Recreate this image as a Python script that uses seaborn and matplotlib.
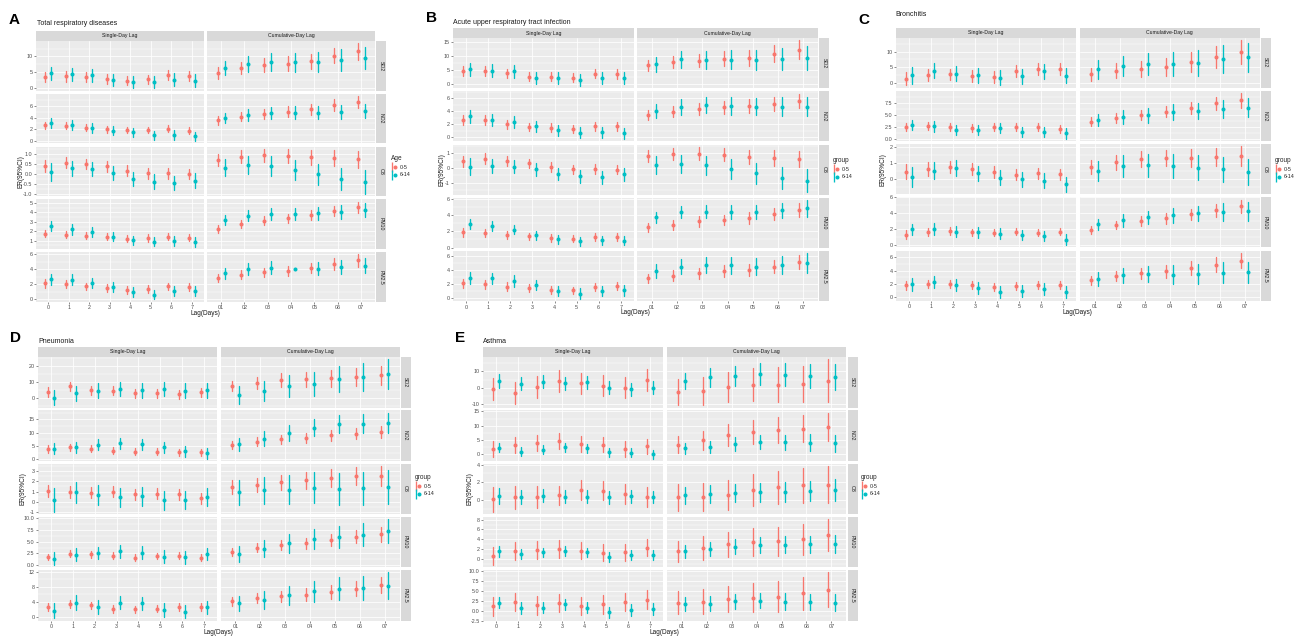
import numpy as np
import pandas as pd
import matplotlib
matplotlib.use("Agg")
import matplotlib.pyplot as plt
import seaborn as sns
from matplotlib.lines import Line2D
from matplotlib.patches import Rectangle
from matplotlib.legend_handler import HandlerTuple
from matplotlib.ticker import AutoMinorLocator

sns.set_theme(style="darkgrid")
plt.rcParams["font.family"] = ["Liberation Sans", "DejaVu Sans"]

W, H = 1298, 636

# ---------------- categories ----------------
pollutants = ["SO2", "NO2", "O3", "PM10", "PM2.5"]
single_lags = ["0", "1", "2", "3", "4", "5", "6", "7"]
cum_lags = ["01", "02", "03", "04", "05", "06", "07"]
lag_types = ["Single-Day Lag", "Cumulative-Day Lag"]
groups = ["0-5", "6-14"]
group_colors = ["#F8766D", "#00BFC4"]

panel_letters = ["A", "B", "C", "D", "E"]
panel_titles = ["Total respiratory diseases", "Acute upper respiratory tract infection",
                "Bronchitis", "Pneumonia", "Asthma"]
legend_titles = ["Age", "group", "group", "group", "group"]

# ---------------- data: ER estimate and CI half-width ----------------
# each list: 8 single-day lags (0..7) followed by 7 cumulative lags (01..07)
# ---- A: Total respiratory diseases
A_young_est = {
    "SO2": [3.5, 3.7, 3.5, 2.8, 2.3, 2.7, 4.1, 3.8, 4.8, 6.3, 7.2, 7.7, 8.5, 10.3, 11.6],
    "NO2": [2.7, 2.6, 2.3, 2.0, 1.9, 1.9, 2.1, 1.8, 3.5, 4.1, 4.6, 5.0, 5.4, 6.1, 6.6],
    "O3": [0.38, 0.57, 0.5, 0.38, 0.16, 0.03, 0.03, 0.0, 0.69, 0.86, 0.93, 0.88, 0.83, 0.79, 0.74],
    "PM10": [1.76, 1.65, 1.55, 1.44, 1.22, 1.29, 1.44, 1.33, 2.27, 2.75, 3.11, 3.36, 3.69, 4.16, 4.56],
    "PM2.5": [2.1, 2.0, 1.7, 1.5, 1.2, 1.4, 1.7, 1.67, 2.84, 3.24, 3.56, 3.74, 4.14, 4.68, 5.14],
}
A_young_ci = {
    "SO2": [1.6, 1.7, 1.6, 1.5, 1.5, 1.5, 1.7, 1.7, 1.9, 2.0, 2.2, 2.3, 2.4, 2.5, 2.6],
    "NO2": [0.6, 0.6, 0.6, 0.55, 0.55, 0.55, 0.6, 0.6, 0.7, 0.75, 0.8, 0.85, 0.9, 0.95, 1.0],
    "O3": [0.3, 0.28, 0.27, 0.27, 0.27, 0.27, 0.27, 0.27, 0.3, 0.32, 0.33, 0.35, 0.37, 0.4, 0.42],
    "PM10": [0.42, 0.4, 0.4, 0.38, 0.38, 0.38, 0.4, 0.4, 0.42, 0.45, 0.47, 0.5, 0.52, 0.55, 0.58],
    "PM2.5": [0.55, 0.55, 0.52, 0.5, 0.5, 0.5, 0.52, 0.52, 0.55, 0.6, 0.62, 0.65, 0.7, 0.75, 0.8],
}
A_old_est = {
    "SO2": [4.6, 4.3, 4.0, 2.5, 1.9, 1.8, 2.6, 2.3, 6.3, 7.7, 8.2, 8.1, 8.3, 8.9, 9.5],
    "NO2": [3.1, 2.7, 2.2, 1.8, 1.5, 1.05, 1.05, 0.85, 3.9, 4.4, 4.7, 4.8, 4.8, 4.9, 5.1],
    "O3": [0.12, 0.28, 0.24, 0.05, -0.24, -0.38, -0.45, -0.33, 0.31, 0.43, 0.40, 0.21, -0.02, -0.24, -0.40],
    "PM10": [2.53, 2.2, 1.9, 1.44, 1.04, 0.89, 0.96, 0.89, 3.18, 3.65, 3.84, 3.84, 3.91, 4.05, 4.27],
    "PM2.5": [2.65, 2.6, 2.16, 1.58, 0.95, 0.63, 1.08, 1.08, 3.47, 4.0, 4.19, 4.05, 4.05, 4.23, 4.46],
}
A_old_ci = {
    "SO2": [2.1, 2.0, 2.0, 1.9, 1.9, 1.9, 2.0, 2.0, 2.3, 2.6, 2.8, 3.0, 3.2, 3.4, 3.6],
    "NO2": [0.8, 0.8, 0.8, 0.75, 0.75, 0.75, 0.8, 0.8, 0.9, 0.95, 1.0, 1.05, 1.1, 1.15, 1.2],
    "O3": [0.45, 0.38, 0.36, 0.36, 0.36, 0.36, 0.36, 0.36, 0.42, 0.45, 0.48, 0.5, 0.52, 0.56, 0.6],
    "PM10": [0.55, 0.55, 0.52, 0.5, 0.5, 0.5, 0.52, 0.52, 0.55, 0.6, 0.62, 0.65, 0.68, 0.72, 0.75],
    "PM2.5": [0.7, 0.7, 0.68, 0.65, 0.65, 0.65, 0.68, 0.68, 0.72, 0.78, 0.82, 0.12, 0.88, 0.92, 0.98],
}
# ---- B: Acute upper respiratory tract infection
B_young_est = {
    "SO2": [4.6, 4.6, 3.9, 2.6, 2.6, 2.3, 3.8, 3.6, 6.7, 8.0, 8.5, 9.1, 9.5, 11.0, 12.4],
    "NO2": [2.7, 2.6, 2.0, 1.6, 1.5, 1.3, 1.7, 1.7, 3.4, 3.9, 4.3, 4.6, 4.8, 5.1, 5.6],
    "O3": [0.43, 0.63, 0.47, 0.31, 0.07, -0.11, -0.09, -0.13, 0.79, 0.92, 0.97, 0.9, 0.74, 0.67, 0.6],
    "PM10": [1.9, 1.8, 1.5, 1.4, 1.2, 1.1, 1.3, 1.3, 2.5, 2.8, 3.2, 3.4, 3.6, 4.1, 4.6],
    "PM2.5": [2.1, 1.95, 1.65, 1.5, 1.2, 1.1, 1.6, 1.7, 2.8, 3.2, 3.55, 3.8, 4.0, 4.5, 5.1],
}
B_young_ci = {
    "SO2": [1.8, 1.8, 1.7, 1.6, 1.6, 1.6, 1.7, 1.7, 2.1, 2.3, 2.5, 2.7, 2.9, 3.2, 3.4],
    "NO2": [0.75, 0.75, 0.7, 0.65, 0.65, 0.65, 0.7, 0.7, 0.8, 0.85, 0.9, 0.95, 1.0, 1.05, 1.1],
    "O3": [0.38, 0.35, 0.33, 0.32, 0.32, 0.32, 0.32, 0.32, 0.4, 0.42, 0.45, 0.47, 0.5, 0.52, 0.55],
    "PM10": [0.55, 0.5, 0.5, 0.45, 0.45, 0.45, 0.45, 0.45, 0.55, 0.6, 0.62, 0.65, 0.7, 0.75, 0.8],
    "PM2.5": [0.65, 0.62, 0.6, 0.58, 0.55, 0.55, 0.58, 0.6, 0.7, 0.75, 0.8, 0.85, 0.9, 0.95, 1.0],
}
B_old_est = {
    "SO2": [5.3, 4.8, 4.6, 2.3, 2.1, 1.6, 2.2, 2.2, 7.1, 9.0, 8.7, 8.85, 8.6, 9.1, 9.5],
    "NO2": [3.2, 2.7, 2.4, 1.7, 1.1, 0.7, 0.75, 0.6, 4.0, 4.7, 5.0, 4.8, 4.7, 4.7, 4.7],
    "O3": [0.09, 0.13, 0.09, -0.11, -0.4, -0.58, -0.65, -0.45, 0.2, 0.27, 0.18, -0.11, -0.38, -0.7, -0.88],
    "PM10": [2.9, 2.6, 2.2, 1.5, 1.0, 0.8, 0.9, 0.85, 3.7, 4.35, 4.4, 4.35, 4.35, 4.55, 4.8],
    "PM2.5": [2.9, 2.8, 2.45, 1.85, 1.0, 0.65, 1.0, 1.1, 3.9, 4.5, 4.7, 4.65, 4.5, 4.7, 4.95],
}
B_old_ci = {
    "SO2": [2.4, 2.3, 2.3, 2.2, 2.2, 2.2, 2.2, 2.2, 2.8, 3.1, 3.3, 3.5, 3.7, 4.0, 4.3],
    "NO2": [1.0, 0.95, 0.9, 0.85, 0.85, 0.85, 0.85, 0.85, 1.1, 1.2, 1.25, 1.3, 1.35, 1.4, 1.45],
    "O3": [0.55, 0.45, 0.45, 0.42, 0.42, 0.42, 0.42, 0.42, 0.6, 0.62, 0.65, 0.68, 0.7, 0.74, 0.78],
    "PM10": [0.6, 0.6, 0.58, 0.55, 0.55, 0.55, 0.55, 0.55, 0.7, 0.75, 0.8, 0.85, 0.9, 0.95, 1.0],
    "PM2.5": [0.85, 0.8, 0.8, 0.75, 0.75, 0.75, 0.75, 0.75, 1.0, 1.05, 1.1, 1.15, 1.2, 1.3, 1.4],
}
# ---- C: Bronchitis
C_young_est = {
    "SO2": [1.35, 2.5, 2.7, 2.2, 2.0, 3.75, 4.5, 4.4, 2.7, 3.95, 4.5, 5.0, 6.6, 8.3, 10.0],
    "NO2": [2.5, 2.65, 2.45, 2.3, 2.5, 2.45, 2.45, 2.1, 3.55, 4.35, 4.95, 5.65, 6.45, 7.35, 8.0],
    "O3": [0.45, 0.6, 0.73, 0.61, 0.43, 0.25, 0.33, 0.29, 0.73, 1.04, 1.24, 1.29, 1.29, 1.35, 1.43],
    "PM10": [1.27, 1.56, 1.77, 1.56, 1.52, 1.65, 1.52, 1.65, 1.9, 2.5, 3.0, 3.33, 3.84, 4.35, 4.85],
    "PM2.5": [1.8, 2.0, 2.0, 1.8, 1.5, 1.65, 1.85, 1.9, 2.57, 3.24, 3.62, 3.9, 4.38, 4.9, 5.5],
}
C_young_ci = {
    "SO2": [2.0, 2.0, 1.9, 1.9, 1.9, 1.9, 1.9, 1.9, 2.2, 2.4, 2.6, 2.9, 3.2, 3.5, 3.8],
    "NO2": [0.85, 0.85, 0.8, 0.8, 0.8, 0.8, 0.8, 0.8, 0.9, 1.0, 1.1, 1.2, 1.3, 1.4, 1.5],
    "O3": [0.45, 0.42, 0.4, 0.38, 0.36, 0.35, 0.35, 0.35, 0.45, 0.48, 0.5, 0.52, 0.55, 0.58, 0.6],
    "PM10": [0.55, 0.5, 0.48, 0.45, 0.45, 0.45, 0.45, 0.45, 0.5, 0.55, 0.6, 0.65, 0.7, 0.78, 0.85],
    "PM2.5": [0.65, 0.65, 0.62, 0.6, 0.6, 0.6, 0.6, 0.6, 0.7, 0.78, 0.85, 0.92, 1.0, 1.08, 1.15],
}
C_old_est = {
    "SO2": [2.4, 3.95, 2.9, 2.4, 1.65, 2.1, 3.65, 2.3, 4.3, 5.4, 6.0, 6.1, 6.45, 7.7, 8.2],
    "NO2": [2.9, 2.65, 1.9, 1.9, 2.2, 1.43, 1.5, 1.15, 3.9, 4.5, 4.95, 5.5, 5.8, 6.2, 6.45],
    "O3": [0.1, 0.51, 0.65, 0.35, 0.06, -0.04, -0.14, -0.35, 0.49, 0.8, 0.86, 0.8, 0.69, 0.59, 0.41],
    "PM10": [1.94, 1.98, 1.65, 1.56, 1.4, 1.22, 1.1, 0.63, 2.57, 3.08, 3.46, 3.71, 3.97, 4.14, 4.22],
    "PM2.5": [1.95, 2.3, 1.85, 1.48, 0.85, 0.95, 1.2, 0.76, 2.8, 3.29, 3.52, 3.43, 3.52, 3.7, 3.76],
}
C_old_ci = {
    "SO2": [2.6, 2.5, 2.4, 2.4, 2.4, 2.4, 2.4, 2.4, 3.0, 3.3, 3.6, 3.9, 4.2, 4.5, 4.7],
    "NO2": [1.1, 1.1, 1.05, 1.05, 1.05, 1.05, 1.05, 1.05, 1.3, 1.45, 1.55, 1.65, 1.75, 1.85, 2.0],
    "O3": [0.62, 0.55, 0.5, 0.48, 0.48, 0.47, 0.47, 0.47, 0.65, 0.68, 0.72, 0.75, 0.78, 0.8, 0.82],
    "PM10": [0.72, 0.72, 0.7, 0.68, 0.68, 0.68, 0.68, 0.68, 0.75, 0.8, 0.85, 0.9, 1.0, 1.1, 1.2],
    "PM2.5": [0.95, 0.95, 0.9, 0.9, 0.9, 0.9, 0.9, 0.9, 1.05, 1.15, 1.25, 1.35, 1.45, 1.55, 1.6],
}
# ---- D: Pneumonia
D_young_est = {
    "SO2": [3.5, 7.0, 4.6, 4.3, 2.6, 2.6, 2.2, 3.3, 7.4, 9.1, 11.1, 11.5, 12.2, 13.0, 13.9],
    "NO2": [3.9, 4.4, 3.9, 3.1, 2.75, 2.75, 2.6, 2.6, 5.5, 6.6, 7.5, 8.1, 8.9, 9.6, 10.1],
    "O3": [1.08, 1.0, 0.9, 1.0, 0.73, 0.8, 0.73, 0.35, 1.43, 1.65, 1.9, 2.1, 2.3, 2.5, 2.54],
    "PM10": [1.76, 2.46, 2.32, 2.04, 1.62, 1.9, 2.04, 1.62, 2.8, 3.7, 4.3, 4.65, 5.3, 6.05, 6.55],
    "PM2.5": [2.6, 3.4, 3.0, 2.0, 1.9, 2.1, 2.5, 2.6, 4.1, 4.9, 5.4, 5.9, 6.55, 7.5, 8.5],
}
D_young_ci = {
    "SO2": [3.0, 3.0, 2.9, 2.8, 2.8, 2.8, 2.8, 2.8, 3.3, 3.8, 4.3, 4.8, 5.3, 5.7, 6.1],
    "NO2": [1.4, 1.35, 1.3, 1.3, 1.3, 1.3, 1.3, 1.3, 1.5, 1.6, 1.75, 1.9, 2.0, 2.1, 2.25],
    "O3": [0.6, 0.57, 0.55, 0.55, 0.55, 0.55, 0.55, 0.55, 0.65, 0.7, 0.75, 0.8, 0.85, 0.9, 0.95],
    "PM10": [0.7, 0.7, 0.7, 0.68, 0.68, 0.68, 0.68, 0.68, 0.85, 0.95, 1.05, 1.15, 1.3, 1.42, 1.55],
    "PM2.5": [1.05, 1.05, 1.0, 1.0, 1.0, 1.0, 1.0, 1.05, 1.2, 1.35, 1.5, 1.65, 1.8, 1.95, 2.1],
}
D_old_est = {
    "SO2": [0.0, 2.8, 4.3, 5.4, 4.6, 5.4, 4.3, 4.6, 1.7, 4.1, 7.2, 8.7, 11.5, 13.0, 14.6],
    "NO2": [4.0, 4.4, 5.4, 5.9, 5.6, 4.4, 2.9, 2.25, 5.6, 7.75, 10.0, 11.75, 13.1, 13.4, 13.75],
    "O3": [0.2, 0.92, 0.67, 0.44, 0.57, 0.16, 0.2, 0.48, 0.92, 1.14, 1.2, 1.37, 1.3, 1.33, 1.46],
    "PM10": [1.4, 2.25, 2.6, 2.96, 2.68, 1.83, 1.69, 2.4, 2.4, 3.5, 4.65, 5.5, 6.05, 6.5, 7.25],
    "PM2.5": [1.6, 3.75, 2.5, 3.75, 3.5, 1.8, 1.3, 2.45, 3.5, 4.35, 5.7, 6.8, 7.4, 7.6, 8.3],
}
D_old_ci = {
    "SO2": [4.8, 4.8, 4.7, 4.6, 4.6, 4.6, 4.6, 4.6, 5.5, 6.2, 6.8, 7.5, 8.3, 9.0, 9.5],
    "NO2": [2.2, 2.1, 2.1, 2.0, 2.0, 2.0, 2.0, 2.0, 2.4, 2.7, 3.0, 3.2, 3.4, 3.6, 3.75],
    "O3": [1.15, 1.0, 0.95, 0.92, 0.92, 0.9, 0.9, 0.9, 1.2, 1.3, 1.4, 1.5, 1.55, 1.6, 1.65],
    "PM10": [1.4, 1.4, 1.35, 1.35, 1.35, 1.35, 1.35, 1.35, 1.7, 1.85, 2.0, 2.15, 2.3, 2.45, 2.55],
    "PM2.5": [1.9, 1.9, 1.85, 1.85, 1.85, 1.85, 1.8, 1.8, 2.1, 2.4, 2.6, 2.85, 3.1, 3.3, 3.5],
}
# ---- E: Asthma
E_young_est = {
    "SO2": [-0.8, -3.0, 0.6, 4.1, 2.7, 1.4, 0.2, 4.9, -2.7, -1.8, 0.6, 2.0, 2.0, 2.2, 4.3],
    "NO2": [2.0, 3.2, 4.0, 4.6, 3.6, 3.4, 1.9, 2.8, 3.4, 4.9, 6.7, 7.7, 8.5, 8.9, 9.7],
    "O3": [0.07, 0.3, 0.3, 0.52, 1.12, 1.05, 0.67, 0.34, 0.3, 0.37, 0.6, 1.12, 1.42, 1.64, 1.75],
    "PM10": [0.6, 1.6, 1.7, 2.05, 1.65, 1.25, 1.3, 2.25, 1.5, 2.2, 2.95, 3.4, 3.6, 4.0, 4.8],
    "PM2.5": [1.1, 2.2, 1.35, 1.9, 1.25, 1.6, 2.2, 2.85, 2.1, 2.35, 2.95, 3.35, 3.6, 4.4, 5.3],
}
E_young_ci = {
    "SO2": [6.8, 6.6, 6.6, 6.6, 6.6, 6.6, 6.6, 6.6, 7.8, 8.5, 9.2, 9.8, 10.4, 11.0, 13.0],
    "NO2": [2.8, 2.8, 2.7, 2.7, 2.7, 2.7, 2.7, 2.7, 3.0, 3.4, 3.8, 4.2, 4.5, 4.7, 4.9],
    "O3": [1.4, 1.3, 1.25, 1.1, 1.15, 1.1, 1.1, 1.1, 1.5, 1.6, 1.7, 1.8, 1.9, 2.0, 2.1],
    "PM10": [1.9, 1.9, 1.85, 1.85, 1.8, 1.8, 1.8, 1.75, 2.2, 2.4, 2.6, 2.8, 3.0, 3.2, 3.3],
    "PM2.5": [2.35, 2.35, 2.3, 2.3, 2.3, 2.3, 2.3, 2.3, 2.85, 3.1, 3.35, 3.6, 3.85, 4.1, 4.4],
}
E_old_est = {
    "SO2": [4.1, 2.4, 3.7, 2.9, 3.5, 0.0, -0.8, 0.2, 4.3, 6.3, 7.3, 8.6, 8.0, 7.1, 6.7],
    "NO2": [2.3, 0.9, 1.6, 2.5, 2.1, 0.8, 0.6, 0.1, 2.1, 2.7, 3.6, 4.2, 4.2, 4.1, 3.9],
    "O3": [0.41, 0.34, 0.49, 0.37, 0.37, 0.3, 0.41, 0.34, 0.52, 0.67, 0.78, 0.86, 0.93, 1.05, 1.12],
    "PM10": [1.5, 0.9, 1.3, 1.6, 1.3, 0.35, 0.8, 0.7, 1.5, 2.0, 2.5, 2.9, 2.9, 3.0, 3.0],
    "PM2.5": [2.1, 0.67, 0.84, 1.6, 0.84, -0.42, 0.17, 0.42, 1.75, 1.85, 2.45, 2.6, 2.35, 2.25, 2.1],
}
E_old_ci = {
    "SO2": [4.0, 3.9, 3.9, 3.9, 3.9, 3.9, 3.9, 3.9, 4.9, 5.5, 6.0, 6.6, 7.0, 7.4, 7.8],
    "NO2": [1.6, 1.6, 1.55, 1.55, 1.55, 1.55, 1.55, 1.55, 1.9, 2.1, 2.3, 2.5, 2.7, 2.85, 3.0],
    "O3": [0.9, 0.75, 0.72, 0.72, 0.72, 0.72, 0.72, 0.72, 0.95, 1.0, 1.05, 1.1, 1.12, 1.15, 1.2],
    "PM10": [1.05, 1.0, 1.0, 1.0, 1.0, 1.0, 1.0, 1.0, 1.4, 1.5, 1.6, 1.65, 1.7, 1.75, 1.8],
    "PM2.5": [1.5, 1.45, 1.45, 1.45, 1.45, 1.45, 1.45, 1.45, 1.7, 1.8, 1.9, 2.0, 2.05, 2.1, 2.2],
}

# ---------------- y tick values per facet row ----------------
A_yticks = {"SO2": [0, 5, 10], "NO2": [0, 2, 4, 6], "O3": [-1.0, -0.5, 0.0, 0.5, 1.0],
            "PM10": [1, 2, 3, 4, 5], "PM2.5": [0, 2, 4, 6]}
B_yticks = {"SO2": [0, 5, 10, 15], "NO2": [0, 2, 4, 6], "O3": [-1, 0, 1],
            "PM10": [0, 2, 4, 6], "PM2.5": [0, 2, 4, 6]}
C_yticks = {"SO2": [0, 5, 10], "NO2": [0.0, 2.5, 5.0, 7.5], "O3": [0, 1, 2],
            "PM10": [0, 2, 4, 6], "PM2.5": [0, 2, 4, 6]}
D_yticks = {"SO2": [0, 10, 20], "NO2": [0, 5, 10, 15], "O3": [-1, 0, 1, 2, 3],
            "PM10": [0.0, 2.5, 5.0, 7.5, 10.0], "PM2.5": [0, 4, 8, 12]}
E_yticks = {"SO2": [-10, 0, 10], "NO2": [0, 5, 10, 15], "O3": [0, 2, 4],
            "PM10": [0, 2, 4, 6, 8], "PM2.5": [-2.5, 0.0, 2.5, 5.0, 7.5, 10.0]}

panel_data = {
    "A": (A_young_est, A_young_ci, A_old_est, A_old_ci, A_yticks),
    "B": (B_young_est, B_young_ci, B_old_est, B_old_ci, B_yticks),
    "C": (C_young_est, C_young_ci, C_old_est, C_old_ci, C_yticks),
    "D": (D_young_est, D_young_ci, D_old_est, D_old_ci, D_yticks),
    "E": (E_young_est, E_young_ci, E_old_est, E_old_ci, E_yticks),
}

# ---------------- long table (lower, estimate, upper per point) ----------------
rows = []
for p in panel_letters:
    ye, yc, oe, oc, _ = panel_data[p]
    for pol in pollutants:
        for g, (est, ci) in zip(groups, [(ye[pol], yc[pol]), (oe[pol], oc[pol])]):
            labels = single_lags + cum_lags
            for i, lag in enumerate(labels):
                lt = lag_types[0] if i < len(single_lags) else lag_types[1]
                for v in (est[i] - ci[i], est[i], est[i] + ci[i]):
                    rows.append((p, pol, lt, lag, g, v))
df = pd.DataFrame(rows, columns=["panel", "pollutant", "lag_type", "lag", "group", "value"])

# ---------------- layout (pixels) ----------------
layout = {
    "A": dict(x0=36, colw=168, colgap=3, y0=31, striph=10, rowh=49.5, rowgap=3.3,
              letter=(9, 19.5), title=(37, 23.5), ylab=21, leg=(391, 155)),
    "B": dict(x0=453, colw=181, colgap=3, y0=28.5, striph=9.5, rowh=50, rowgap=3.3,
              letter=(426, 18.5), title=(453, 23), ylab=442, leg=(833, 157)),
    "C": dict(x0=896, colw=180, colgap=3.5, y0=28, striph=9.5, rowh=50, rowgap=3.3,
              letter=(858, 20), title=(895, 14), ylab=883, leg=(1275, 157)),
    "D": dict(x0=38, colw=179, colgap=3.5, y0=347, striph=10, rowh=50.5, rowgap=2.8,
              letter=(10, 338), title=(38, 341), ylab=23, leg=(415, 474)),
    "E": dict(x0=483, colw=180, colgap=3.5, y0=347, striph=10, rowh=50.5, rowgap=2.8,
              letter=(455, 338), title=(483, 341), ylab=470, leg=(861, 474)),
}

fig = plt.figure(figsize=(W / 100, H / 100), dpi=100)
fig.patch.set_facecolor("white")

def rect(x, y, w, h):
    return [x / W, 1 - (y + h) / H, w / W, h / H]

def add_box(x, y, w, h, color="#D9D9D9"):
    fig.add_artist(Rectangle((x / W, 1 - (y + h) / H), w / W, h / H,
                             transform=fig.transFigure, facecolor=color,
                             edgecolor="none", zorder=0))

TICK_FS = 3.9
STRIP_FS = 3.7
err_fn = lambda v: (v.min(), v.max())

def fmt(t, ticks):
    if any(abs(x - round(x)) > 1e-9 for x in ticks):
        return f"{t:.1f}"
    return f"{int(round(t))}"

for pi, p in enumerate(panel_letters):
    L = layout[p]
    ye, yc, oe, oc, yt = panel_data[p]
    facet_top = L["y0"] + L["striph"]
    full_w = 2 * L["colw"] + L["colgap"]
    # column strips
    for c, lt in enumerate(lag_types):
        xl = L["x0"] + c * (L["colw"] + L["colgap"])
        add_box(xl, L["y0"], L["colw"], L["striph"])
        fig.text((xl + L["colw"] / 2) / W, 1 - (L["y0"] + L["striph"] / 2) / H, lt,
                 ha="center", va="center", fontsize=STRIP_FS, color="#1A1A1A")
    for r, pol in enumerate(pollutants):
        ytop = facet_top + r * (L["rowh"] + L["rowgap"])
        lows = [e - c for e, c in zip(ye[pol], yc[pol])] + [e - c for e, c in zip(oe[pol], oc[pol])]
        highs = [e + c for e, c in zip(ye[pol], yc[pol])] + [e + c for e, c in zip(oe[pol], oc[pol])]
        lo, hi = min(lows), max(highs)
        pad = 0.05 * (hi - lo)
        # row strip
        sx = L["x0"] + full_w + 1
        add_box(sx, ytop, 10, L["rowh"])
        fig.text((sx + 5) / W, 1 - (ytop + L["rowh"] / 2) / H, pol, ha="center", va="center",
                 rotation=270, fontsize=STRIP_FS, color="#1A1A1A")
        for c, lt in enumerate(lag_types):
            xl = L["x0"] + c * (L["colw"] + L["colgap"])
            ax = fig.add_axes(rect(xl, ytop, L["colw"], L["rowh"]))
            order = single_lags if c == 0 else cum_lags
            sub = df[(df.panel == p) & (df.pollutant == pol) & (df.lag_type == lt)]
            sns.pointplot(data=sub, x="lag", y="value", hue="group", order=order,
                          hue_order=groups, palette=group_colors, estimator="median",
                          errorbar=err_fn, dodge=0.3, linestyle="none", markers="o",
                          markersize=2.9, markeredgewidth=0, err_kws={"linewidth": 0.95},
                          legend=False, ax=ax)
            ax.set_facecolor("#EBEBEB")
            for s in ax.spines.values():
                s.set_visible(False)
            ax.set_xlim(-0.6, len(order) - 0.4)
            ax.set_ylim(lo - pad, hi + pad)
            ticks = yt[pol]
            ax.set_yticks(ticks)
            ax.yaxis.set_minor_locator(AutoMinorLocator(2))
            ax.set_axisbelow(True)
            ax.grid(True, which="major", color="white", linewidth=0.55)
            ax.grid(True, which="minor", axis="y", color="white", linewidth=0.3)
            ax.set_xlabel("")
            ax.set_ylabel("")
            ax.tick_params(which="minor", length=0)
            ax.tick_params(which="major", length=1.5, width=0.4, color="#333333",
                           labelsize=TICK_FS, labelcolor="#4D4D4D", pad=1)
            if c == 0:
                ax.set_yticklabels([fmt(t, ticks) for t in ticks])
                ax.tick_params(axis="y", left=True)
            else:
                ax.tick_params(axis="y", left=False, labelleft=False)
            ax.set_xticks(range(len(order)))
            if r == len(pollutants) - 1:
                ax.set_xticklabels(order)
                ax.tick_params(axis="x", bottom=True, labelbottom=True)
            else:
                ax.tick_params(axis="x", bottom=False, labelbottom=False)
    facet_bottom = facet_top + 5 * L["rowh"] + 4 * L["rowgap"]
    # panel letter and title
    fig.text(L["letter"][0] / W, 1 - L["letter"][1] / H, p, ha="left", va="center",
             fontsize=11, fontweight="bold", color="black")
    fig.text(L["title"][0] / W, 1 - L["title"][1] / H, panel_titles[pi], ha="left",
             va="center", fontsize=5, color="#1A1A1A")
    # axis titles
    fig.text((L["x0"] + full_w / 2) / W, 1 - (facet_bottom + 11.5) / H, "Lag(Days)",
             ha="center", va="center", fontsize=4.7, color="#1A1A1A")
    fig.text(L["ylab"] / W, 1 - ((facet_top + facet_bottom) / 2) / H, "ER(95%CI)",
             ha="center", va="center", rotation=90, fontsize=4.7, color="#1A1A1A")
    # legend
    handles = [(Line2D([], [], color=col, marker="|", markersize=6.5, markeredgewidth=0.95,
                       linestyle="none"),
                Line2D([], [], color=col, marker="o", markersize=2.9, markeredgewidth=0,
                       linestyle="none")) for col in group_colors]
    fig.legend(handles, groups, title=legend_titles[pi], loc="upper left",
               bbox_to_anchor=(L["leg"][0] / W, 1 - L["leg"][1] / H),
               handler_map={tuple: HandlerTuple(ndivide=None)}, frameon=False,
               fontsize=3.9, title_fontsize=4.7, handlelength=1.0, handletextpad=0.6,
               labelspacing=0.5, borderpad=0, borderaxespad=0, alignment="left")

fig.savefig("out.png", dpi=100, facecolor="white")
